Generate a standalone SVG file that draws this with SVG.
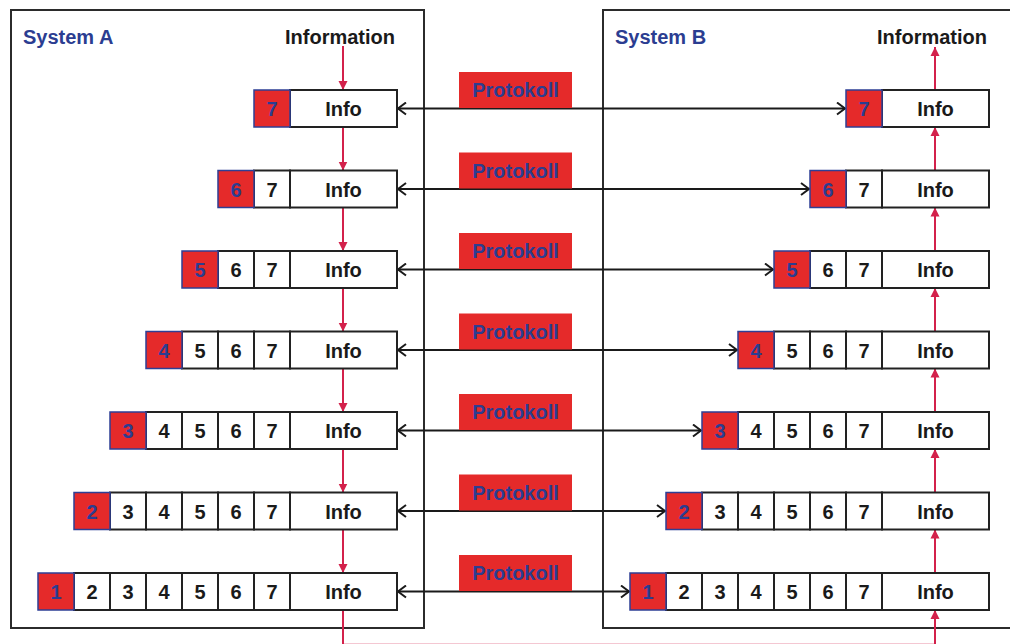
<svg xmlns="http://www.w3.org/2000/svg" width="1010" height="644" viewBox="0 0 1010 644">
<style>
.sys{fill:none;stroke:#2b2b2b;stroke-width:2}
.t{font-family:"Liberation Sans",Arial,sans-serif;font-weight:bold;font-size:20px;text-anchor:middle}
.tl{font-family:"Liberation Sans",Arial,sans-serif;font-weight:bold;font-size:20px}
.blk{fill:#1a1a1a}
.blu{fill:#2b3d91}
.wc{fill:#fff;stroke:#222;stroke-width:2}
.rc{fill:#e52a2a;stroke:#2e3f95;stroke-width:1.5}
.pr{fill:#e52a2a}
.red{stroke:#d3214b;stroke-width:2;fill:none}
.bl{stroke:#1a1a1a;stroke-width:2;fill:none}
</style>
<defs>
<marker id="ra" markerUnits="userSpaceOnUse" viewBox="0 0 10 10" refX="10" refY="5" markerWidth="9" markerHeight="10" orient="auto"><path d="M0,0 L10,5 L0,10 z" fill="#d3214b"/></marker>
<marker id="ch" markerUnits="userSpaceOnUse" viewBox="0 0 10 14" refX="9" refY="7" markerWidth="10" markerHeight="14" orient="auto-start-reverse"><path d="M1,1 L9,7 L1,13" fill="none" stroke="#1a1a1a" stroke-width="2"/></marker>
</defs>

<g id="systemA"><rect class="sys" x="11" y="10" width="413" height="618"/><text class="tl blu" x="23" y="44">System A</text><text class="t blk" x="340" y="44">Information</text></g>
<g id="systemB"><rect class="sys" x="603" y="10" width="420" height="618"/><text class="tl blu" x="615" y="44">System B</text><text class="t blk" x="932" y="44">Information</text></g>

<g id="connectors">
<line class="red" x1="343" y1="46" x2="343" y2="90" marker-end="url(#ra)"/>
<line class="red" x1="343" y1="127" x2="343" y2="170.5" marker-end="url(#ra)"/>
<line class="red" x1="343" y1="207.5" x2="343" y2="251" marker-end="url(#ra)"/>
<line class="red" x1="343" y1="288" x2="343" y2="331.5" marker-end="url(#ra)"/>
<line class="red" x1="343" y1="368.5" x2="343" y2="412" marker-end="url(#ra)"/>
<line class="red" x1="343" y1="449" x2="343" y2="492.5" marker-end="url(#ra)"/>
<line class="red" x1="343" y1="529.5" x2="343" y2="573" marker-end="url(#ra)"/>
<path class="red" d="M343,610 V644.7 H935 V610" marker-end="url(#ra)"/>
<line class="red" x1="935" y1="573" x2="935" y2="529.5" marker-end="url(#ra)"/>
<line class="red" x1="935" y1="492.5" x2="935" y2="449" marker-end="url(#ra)"/>
<line class="red" x1="935" y1="412" x2="935" y2="368.5" marker-end="url(#ra)"/>
<line class="red" x1="935" y1="331.5" x2="935" y2="288" marker-end="url(#ra)"/>
<line class="red" x1="935" y1="251" x2="935" y2="207.5" marker-end="url(#ra)"/>
<line class="red" x1="935" y1="170.5" x2="935" y2="127" marker-end="url(#ra)"/>
<line class="red" x1="935" y1="90" x2="935" y2="47" marker-end="url(#ra)"/>
<line class="bl" x1="398" y1="108.5" x2="845" y2="108.5" marker-start="url(#ch)" marker-end="url(#ch)"/>
<line class="bl" x1="398" y1="189" x2="809" y2="189" marker-start="url(#ch)" marker-end="url(#ch)"/>
<line class="bl" x1="398" y1="269.5" x2="773" y2="269.5" marker-start="url(#ch)" marker-end="url(#ch)"/>
<line class="bl" x1="398" y1="350" x2="737" y2="350" marker-start="url(#ch)" marker-end="url(#ch)"/>
<line class="bl" x1="398" y1="430.5" x2="701" y2="430.5" marker-start="url(#ch)" marker-end="url(#ch)"/>
<line class="bl" x1="398" y1="511" x2="665" y2="511" marker-start="url(#ch)" marker-end="url(#ch)"/>
<line class="bl" x1="398" y1="591.5" x2="629" y2="591.5" marker-start="url(#ch)" marker-end="url(#ch)"/>
</g>

<g id="protokoll7"><rect class="pr" x="459" y="72" width="113" height="36"/><text class="t blu" x="515.5" y="97">Protokoll</text></g>
<g id="protokoll6"><rect class="pr" x="459" y="152.5" width="113" height="36"/><text class="t blu" x="515.5" y="177.5">Protokoll</text></g>
<g id="protokoll5"><rect class="pr" x="459" y="233" width="113" height="36"/><text class="t blu" x="515.5" y="258">Protokoll</text></g>
<g id="protokoll4"><rect class="pr" x="459" y="313.5" width="113" height="36"/><text class="t blu" x="515.5" y="338.5">Protokoll</text></g>
<g id="protokoll3"><rect class="pr" x="459" y="394" width="113" height="36"/><text class="t blu" x="515.5" y="419">Protokoll</text></g>
<g id="protokoll2"><rect class="pr" x="459" y="474.5" width="113" height="36"/><text class="t blu" x="515.5" y="499.5">Protokoll</text></g>
<g id="protokoll1"><rect class="pr" x="459" y="555" width="113" height="36"/><text class="t blu" x="515.5" y="580">Protokoll</text></g>

<!-- System A rows -->
<g id="a7" transform="translate(0,90)">
<rect class="wc" x="290" y="0" width="107" height="37"/><text class="t blk" x="343.5" y="26">Info</text>
<rect class="rc" x="254" y="0" width="36" height="37"/><text class="t blu" x="272" y="26">7</text>
</g>
<g id="a6" transform="translate(0,170.5)">
<rect class="wc" x="290" y="0" width="107" height="37"/><text class="t blk" x="343.5" y="26">Info</text>
<rect class="wc" x="254" y="0" width="36" height="37"/><text class="t blk" x="272" y="26">7</text>
<rect class="rc" x="218" y="0" width="36" height="37"/><text class="t blu" x="236" y="26">6</text>
</g>
<g id="a5" transform="translate(0,251)">
<rect class="wc" x="290" y="0" width="107" height="37"/><text class="t blk" x="343.5" y="26">Info</text>
<rect class="wc" x="254" y="0" width="36" height="37"/><text class="t blk" x="272" y="26">7</text>
<rect class="wc" x="218" y="0" width="36" height="37"/><text class="t blk" x="236" y="26">6</text>
<rect class="rc" x="182" y="0" width="36" height="37"/><text class="t blu" x="200" y="26">5</text>
</g>
<g id="a4" transform="translate(0,331.5)">
<rect class="wc" x="290" y="0" width="107" height="37"/><text class="t blk" x="343.5" y="26">Info</text>
<rect class="wc" x="254" y="0" width="36" height="37"/><text class="t blk" x="272" y="26">7</text>
<rect class="wc" x="218" y="0" width="36" height="37"/><text class="t blk" x="236" y="26">6</text>
<rect class="wc" x="182" y="0" width="36" height="37"/><text class="t blk" x="200" y="26">5</text>
<rect class="rc" x="146" y="0" width="36" height="37"/><text class="t blu" x="164" y="26">4</text>
</g>
<g id="a3" transform="translate(0,412)">
<rect class="wc" x="290" y="0" width="107" height="37"/><text class="t blk" x="343.5" y="26">Info</text>
<rect class="wc" x="254" y="0" width="36" height="37"/><text class="t blk" x="272" y="26">7</text>
<rect class="wc" x="218" y="0" width="36" height="37"/><text class="t blk" x="236" y="26">6</text>
<rect class="wc" x="182" y="0" width="36" height="37"/><text class="t blk" x="200" y="26">5</text>
<rect class="wc" x="146" y="0" width="36" height="37"/><text class="t blk" x="164" y="26">4</text>
<rect class="rc" x="110" y="0" width="36" height="37"/><text class="t blu" x="128" y="26">3</text>
</g>
<g id="a2" transform="translate(0,492.5)">
<rect class="wc" x="290" y="0" width="107" height="37"/><text class="t blk" x="343.5" y="26">Info</text>
<rect class="wc" x="254" y="0" width="36" height="37"/><text class="t blk" x="272" y="26">7</text>
<rect class="wc" x="218" y="0" width="36" height="37"/><text class="t blk" x="236" y="26">6</text>
<rect class="wc" x="182" y="0" width="36" height="37"/><text class="t blk" x="200" y="26">5</text>
<rect class="wc" x="146" y="0" width="36" height="37"/><text class="t blk" x="164" y="26">4</text>
<rect class="wc" x="110" y="0" width="36" height="37"/><text class="t blk" x="128" y="26">3</text>
<rect class="rc" x="74" y="0" width="36" height="37"/><text class="t blu" x="92" y="26">2</text>
</g>
<g id="a1" transform="translate(0,573)">
<rect class="wc" x="290" y="0" width="107" height="37"/><text class="t blk" x="343.5" y="26">Info</text>
<rect class="wc" x="254" y="0" width="36" height="37"/><text class="t blk" x="272" y="26">7</text>
<rect class="wc" x="218" y="0" width="36" height="37"/><text class="t blk" x="236" y="26">6</text>
<rect class="wc" x="182" y="0" width="36" height="37"/><text class="t blk" x="200" y="26">5</text>
<rect class="wc" x="146" y="0" width="36" height="37"/><text class="t blk" x="164" y="26">4</text>
<rect class="wc" x="110" y="0" width="36" height="37"/><text class="t blk" x="128" y="26">3</text>
<rect class="wc" x="74" y="0" width="36" height="37"/><text class="t blk" x="92" y="26">2</text>
<rect class="rc" x="38" y="0" width="36" height="37"/><text class="t blu" x="56" y="26">1</text>
</g>

<!-- System B rows -->
<g id="b7" transform="translate(592,90)">
<rect class="wc" x="290" y="0" width="107" height="37"/><text class="t blk" x="343.5" y="26">Info</text>
<rect class="rc" x="254" y="0" width="36" height="37"/><text class="t blu" x="272" y="26">7</text>
</g>
<g id="b6" transform="translate(592,170.5)">
<rect class="wc" x="290" y="0" width="107" height="37"/><text class="t blk" x="343.5" y="26">Info</text>
<rect class="wc" x="254" y="0" width="36" height="37"/><text class="t blk" x="272" y="26">7</text>
<rect class="rc" x="218" y="0" width="36" height="37"/><text class="t blu" x="236" y="26">6</text>
</g>
<g id="b5" transform="translate(592,251)">
<rect class="wc" x="290" y="0" width="107" height="37"/><text class="t blk" x="343.5" y="26">Info</text>
<rect class="wc" x="254" y="0" width="36" height="37"/><text class="t blk" x="272" y="26">7</text>
<rect class="wc" x="218" y="0" width="36" height="37"/><text class="t blk" x="236" y="26">6</text>
<rect class="rc" x="182" y="0" width="36" height="37"/><text class="t blu" x="200" y="26">5</text>
</g>
<g id="b4" transform="translate(592,331.5)">
<rect class="wc" x="290" y="0" width="107" height="37"/><text class="t blk" x="343.5" y="26">Info</text>
<rect class="wc" x="254" y="0" width="36" height="37"/><text class="t blk" x="272" y="26">7</text>
<rect class="wc" x="218" y="0" width="36" height="37"/><text class="t blk" x="236" y="26">6</text>
<rect class="wc" x="182" y="0" width="36" height="37"/><text class="t blk" x="200" y="26">5</text>
<rect class="rc" x="146" y="0" width="36" height="37"/><text class="t blu" x="164" y="26">4</text>
</g>
<g id="b3" transform="translate(592,412)">
<rect class="wc" x="290" y="0" width="107" height="37"/><text class="t blk" x="343.5" y="26">Info</text>
<rect class="wc" x="254" y="0" width="36" height="37"/><text class="t blk" x="272" y="26">7</text>
<rect class="wc" x="218" y="0" width="36" height="37"/><text class="t blk" x="236" y="26">6</text>
<rect class="wc" x="182" y="0" width="36" height="37"/><text class="t blk" x="200" y="26">5</text>
<rect class="wc" x="146" y="0" width="36" height="37"/><text class="t blk" x="164" y="26">4</text>
<rect class="rc" x="110" y="0" width="36" height="37"/><text class="t blu" x="128" y="26">3</text>
</g>
<g id="b2" transform="translate(592,492.5)">
<rect class="wc" x="290" y="0" width="107" height="37"/><text class="t blk" x="343.5" y="26">Info</text>
<rect class="wc" x="254" y="0" width="36" height="37"/><text class="t blk" x="272" y="26">7</text>
<rect class="wc" x="218" y="0" width="36" height="37"/><text class="t blk" x="236" y="26">6</text>
<rect class="wc" x="182" y="0" width="36" height="37"/><text class="t blk" x="200" y="26">5</text>
<rect class="wc" x="146" y="0" width="36" height="37"/><text class="t blk" x="164" y="26">4</text>
<rect class="wc" x="110" y="0" width="36" height="37"/><text class="t blk" x="128" y="26">3</text>
<rect class="rc" x="74" y="0" width="36" height="37"/><text class="t blu" x="92" y="26">2</text>
</g>
<g id="b1" transform="translate(592,573)">
<rect class="wc" x="290" y="0" width="107" height="37"/><text class="t blk" x="343.5" y="26">Info</text>
<rect class="wc" x="254" y="0" width="36" height="37"/><text class="t blk" x="272" y="26">7</text>
<rect class="wc" x="218" y="0" width="36" height="37"/><text class="t blk" x="236" y="26">6</text>
<rect class="wc" x="182" y="0" width="36" height="37"/><text class="t blk" x="200" y="26">5</text>
<rect class="wc" x="146" y="0" width="36" height="37"/><text class="t blk" x="164" y="26">4</text>
<rect class="wc" x="110" y="0" width="36" height="37"/><text class="t blk" x="128" y="26">3</text>
<rect class="wc" x="74" y="0" width="36" height="37"/><text class="t blk" x="92" y="26">2</text>
<rect class="rc" x="38" y="0" width="36" height="37"/><text class="t blu" x="56" y="26">1</text>
</g>
</svg>
